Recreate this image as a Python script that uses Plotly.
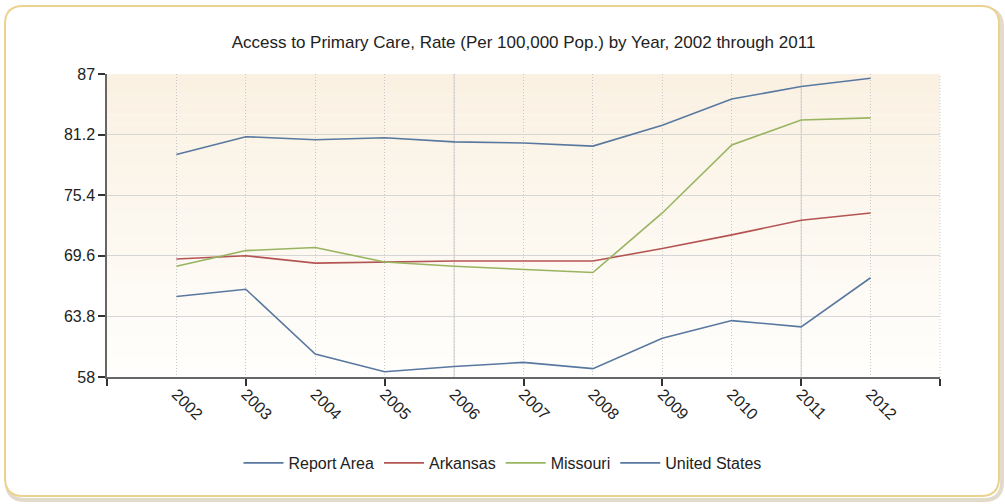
# -*- coding: utf-8 -*-

import plotly.graph_objs as go

# Data
years = [2002, 2003, 2004, 2005, 2006, 2007, 2008, 2009, 2010, 2011, 2012]
report_area = [65.7, 66.4, 60.2, 58.5, 59.0, 59.4, 58.8, 61.7, 63.4, 62.8, 67.5]
arkansas = [69.3, 69.6, 68.9, 69.0, 69.1, 69.1, 69.1, 70.3, 71.6, 73.0, 73.7]
missouri = [68.6, 70.1, 70.4, 69.0, 68.6, 68.3, 68.0, 73.7, 80.2, 82.6, 82.8]
united_states = [79.3, 81.0, 80.7, 80.9, 80.5, 80.4, 80.1, 82.1, 84.6, 85.8, 86.6]
y_ticks = [58, 63.8, 69.6, 75.4, 81.2, 87]
y_tick_labels = ["58", "63.8", "69.6", "75.4", "81.2", "87"]

series = [
    ("Report Area", report_area, "#5878A0"),
    ("Arkansas", arkansas, "#B45452"),
    ("Missouri", missouri, "#98B460"),
    ("United States", united_states, "#5878A0"),
]

W, H = 1005, 504
L, R, T, B = 107, 65, 74, 127
PW, PH = W - L - R, H - T - B
FONT = "Liberation Sans, Arial, sans-serif"


def px(x):
    return (x - L) / PW


def py(y):
    return (H - B - y) / PH


def rounded_rect(x0, y0, x1, y1, r):
    # pixel coords -> paper path
    pts = [
        f"M {px(x0 + r)} {py(y0)}",
        f"L {px(x1 - r)} {py(y0)}",
        f"Q {px(x1)} {py(y0)} {px(x1)} {py(y0 + r)}",
        f"L {px(x1)} {py(y1 - r)}",
        f"Q {px(x1)} {py(y1)} {px(x1 - r)} {py(y1)}",
        f"L {px(x0 + r)} {py(y1)}",
        f"Q {px(x0)} {py(y1)} {px(x0)} {py(y1 - r)}",
        f"L {px(x0)} {py(y0 + r)}",
        f"Q {px(x0)} {py(y0)} {px(x0 + r)} {py(y0)}",
        "Z",
    ]
    return " ".join(pts)


fig = go.Figure()

for name, vals, color in series:
    fig.add_trace(
        go.Scatter(
            x=years,
            y=vals,
            mode="lines",
            name=name,
            line=dict(color=color, width=1.6),
        )
    )

shapes = []

# outer frame with shadow
shapes.append(
    dict(
        type="path",
        path=rounded_rect(7, 9, 1002, 500, 18),
        xref="paper",
        yref="paper",
        line=dict(color="rgba(190,175,140,0.45)", width=4),
        layer="below",
    )
)
shapes.append(
    dict(
        type="path",
        path=rounded_rect(5, 6, 999, 496, 18),
        xref="paper",
        yref="paper",
        line=dict(color="#EBD28E", width=2),
        fillcolor="white",
        layer="below",
    )
)

# plot area gradient (top beige -> bottom white)
n = 30
top_c = (250, 241, 226)
bot_c = (255, 254, 252)
for i in range(n):
    t = i / (n - 1)
    c = tuple(int(round(top_c[k] + (bot_c[k] - top_c[k]) * t)) for k in range(3))
    shapes.append(
        dict(
            type="rect",
            xref="paper",
            yref="paper",
            x0=0,
            x1=1,
            y0=1 - (i + 1) / n,
            y1=1 - i / n,
            fillcolor=f"rgb{c}",
            line=dict(width=0),
            layer="below",
        )
    )

# solid major vertical grid lines
for xv in [2006, 2011]:
    shapes.append(
        dict(
            type="line",
            xref="x",
            yref="paper",
            x0=xv,
            x1=xv,
            y0=0,
            y1=1,
            line=dict(color="#CFCFCF", width=1),
            layer="below",
        )
    )
# right dotted border
shapes.append(
    dict(
        type="line",
        xref="paper",
        yref="paper",
        x0=1,
        x1=1,
        y0=0,
        y1=1,
        line=dict(color="#CFCFCF", width=1, dash="1px,2px"),
        layer="below",
    )
)

fig.update_layout(
    width=W,
    height=H,
    margin=dict(l=L, r=R, t=T, b=B),
    paper_bgcolor="white",
    plot_bgcolor="rgba(0,0,0,0)",
    shapes=shapes,
    font=dict(family=FONT, size=15, color="#222222"),
    title=dict(
        text="Access to Primary Care, Rate (Per 100,000 Pop.) by Year, 2002 through 2011",
        x=0.5,
        xref="paper",
        xanchor="center",
        y=1 - 42 / H,
        yref="container",
        yanchor="middle",
        font=dict(family=FONT, size=17, color="#222222"),
    ),
    xaxis=dict(
        range=[2001, 2013],
        tickvals=years,
        ticktext=[str(y) for y in years],
        tickangle=45,
        ticks="",
        showgrid=True,
        gridcolor="#C8C8C8",
        griddash="1px,2px",
        gridwidth=1,
        showline=True,
        linecolor="#666666",
        linewidth=1.5,
        zeroline=False,
        tickfont=dict(family=FONT, size=16, color="#222222"),
        minor=dict(
            tick0=2001,
            dtick=2,
            ticks="outside",
            ticklen=7,
            tickcolor="#333333",
            tickwidth=1.5,
            showgrid=False,
        ),
    ),
    yaxis=dict(
        range=[58, 87],
        tickvals=y_ticks,
        ticktext=y_tick_labels,
        ticks="outside",
        ticklen=7,
        tickcolor="#333333",
        tickwidth=1.5,
        showgrid=True,
        gridcolor="#D6D6D6",
        gridwidth=1,
        showline=True,
        linecolor="#666666",
        linewidth=1.5,
        zeroline=False,
        tickfont=dict(family=FONT, size=16, color="#222222"),
    ),
    legend=dict(
        orientation="h",
        x=0.5,
        xref="container",
        xanchor="center",
        y=1 - 463 / H,
        yref="container",
        yanchor="middle",
        itemwidth=40,
        font=dict(family=FONT, size=16, color="#222222"),
        bgcolor="rgba(0,0,0,0)",
    ),
    showlegend=True,
)

fig.write_html(
    "out.html",
    config={"displayModeBar": False},
    post_script="document.body.style.margin='0';document.body.style.overflow='hidden';",
)
